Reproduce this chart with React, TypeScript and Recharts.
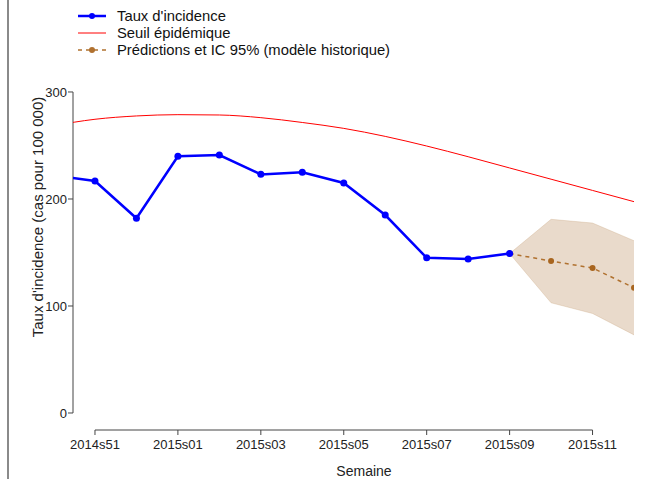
import React from "react";
import {
  ComposedChart,
  Line,
  Area,
  XAxis,
  YAxis,
  ReferenceLine,
  Label,
} from "recharts";

// weeks, indexed from 2014s51 = 0
const weekIdx = [-1, 0, 1, 2, 3, 4, 5, 6, 7, 8, 9, 10, 11, 12, 13];
const weekLabels = [
  "2014s50", "2014s51", "2014s52", "2015s01", "2015s02", "2015s03", "2015s04",
  "2015s05", "2015s06", "2015s07", "2015s08", "2015s09", "2015s10", "2015s11", "2015s12",
];
const incidence = [222, 216.8, 182, 240, 241, 223, 225, 215, 185, 145, 144, 149, null, null, null];
const threshold = [268.5, 274.5, 277.6, 278.8, 278.5, 276, 271.5, 266, 258.5, 249.5, 239.5, 229, 218.5, 208, 197.5];
const predicted = [null, null, null, null, null, null, null, null, null, null, null, 149, 142, 135.5, 117];
const ciLow = [null, null, null, null, null, null, null, null, null, null, null, 149, 103, 93, 73];
const ciHigh = [null, null, null, null, null, null, null, null, null, null, null, 149, 181, 177.5, 161];

const xTicks = [0, 2, 4, 6, 8, 10, 12];
const yTicks = [0, 100, 200, 300];

const X_MIN = -0.53;
const X_MAX = 13;
const Y_MIN = -15.9;
const Y_MAX = 311.2;

const data = weekIdx.map((w, i) => ({
  week: w,
  incidence: incidence[i],
  threshold: threshold[i],
  predicted: predicted[i],
  ci: ciLow[i] == null ? null : [ciLow[i], ciHigh[i]],
}));

const FONT = "'Liberation Sans', Arial, sans-serif";
const AXIS = "#444";

function LegendBox() {
  const rows = [
    { label: "Taux d'incidence", color: "#0000ff", width: 2.5, dash: undefined, dot: true },
    { label: "Seuil épidémique", color: "#ff0000", width: 1, dash: undefined, dot: false },
    { label: "Prédictions et IC 95% (modèle historique)", color: "#b0712f", width: 1.5, dash: "4 4", dot: true },
  ];
  return (
    <div style={{ position: "absolute", left: 77, top: 8, fontFamily: FONT, fontSize: 14.8, color: "#111" }}>
      {rows.map((r) => (
        <div key={r.label} style={{ display: "flex", alignItems: "center", height: 16.7 }}>
          <svg width={30} height={10} style={{ marginRight: 10 }}>
            <line x1={1} y1={5} x2={29} y2={5} stroke={r.color} strokeWidth={r.width} strokeDasharray={r.dash} />
            {r.dot && <circle cx={15} cy={5} r={3} fill={r.color} />}
          </svg>
          <span style={{ lineHeight: "16px" }}>{r.label}</span>
        </div>
      ))}
    </div>
  );
}

export default function App() {
  return (
    <div style={{ position: "absolute", left: 0, top: 0, width: 655, height: 479, background: "#fff" }}>
      <div style={{ position: "absolute", left: 7, top: 0, width: 2, height: 479, background: "#8a8a8a" }} />
      <ComposedChart
        width={655}
        height={479}
        data={data}
        margin={{ top: 80, right: 21, bottom: 48, left: 72 }}
      >
        <XAxis
          type="number"
          dataKey="week"
          domain={[X_MIN, X_MAX]}
          allowDataOverflow
          ticks={xTicks}
          interval={0}
          height={1}
          axisLine={false}
          tickSize={5}
          tickMargin={5}
          tickLine={{ stroke: AXIS }}
          tick={{ fill: "#222", fontSize: 13, fontFamily: FONT }}
          tickFormatter={(v: number) => weekLabels[v + 1]}
        >
          <Label
            content={() => (
              <text
                x={364}
                y={476}
                textAnchor="middle"
                fill="#222"
                fontSize={14}
                fontFamily={FONT}
              >
                Semaine
              </text>
            )}
          />
        </XAxis>
        <YAxis
          type="number"
          domain={[Y_MIN, Y_MAX]}
          allowDataOverflow
          ticks={yTicks}
          interval={0}
          width={1}
          axisLine={false}
          tickSize={5}
          tickMargin={1}
          tickLine={{ stroke: AXIS }}
          tick={{ fill: "#222", fontSize: 13, fontFamily: FONT }}
        >
          <Label
            content={() => (
              <text
                x={37}
                y={217}
                transform="rotate(-90 37 217)"
                textAnchor="middle"
                dominantBaseline="central"
                fill="#222"
                fontSize={15}
                fontFamily={FONT}
              >
                Taux d'incidence (cas pour 100 000)
              </text>
            )}
          />
        </YAxis>
        <ReferenceLine
          segment={[{ x: X_MIN, y: 0 }, { x: X_MIN, y: 300 }]}
          stroke={AXIS}
          strokeWidth={1}
          ifOverflow="visible"
        />
        <ReferenceLine
          segment={[{ x: 0, y: Y_MIN }, { x: 12, y: Y_MIN }]}
          stroke={AXIS}
          strokeWidth={1}
          ifOverflow="visible"
        />
        <Area
          dataKey="ci"
          type="linear"
          fill="#c8a27c"
          fillOpacity={0.4}
          stroke="#c8a27c"
          strokeOpacity={0.3}
          isAnimationActive={false}
          legendType="none"
        />
        <Line
          dataKey="threshold"
          type="monotone"
          stroke="#ff0000"
          strokeWidth={1}
          dot={false}
          isAnimationActive={false}
        />
        <Line
          dataKey="predicted"
          type="linear"
          stroke="#b0712f"
          strokeWidth={1.5}
          strokeDasharray="4 4"
          dot={{ r: 3, fill: "#a8651f", stroke: "none" }}
          isAnimationActive={false}
        />
        <Line
          dataKey="incidence"
          type="linear"
          stroke="#0000ff"
          strokeWidth={2.5}
          dot={{ r: 3.5, fill: "#0000ff", stroke: "none" }}
          isAnimationActive={false}
        />
      </ComposedChart>
      <LegendBox />
    </div>
  );
}
